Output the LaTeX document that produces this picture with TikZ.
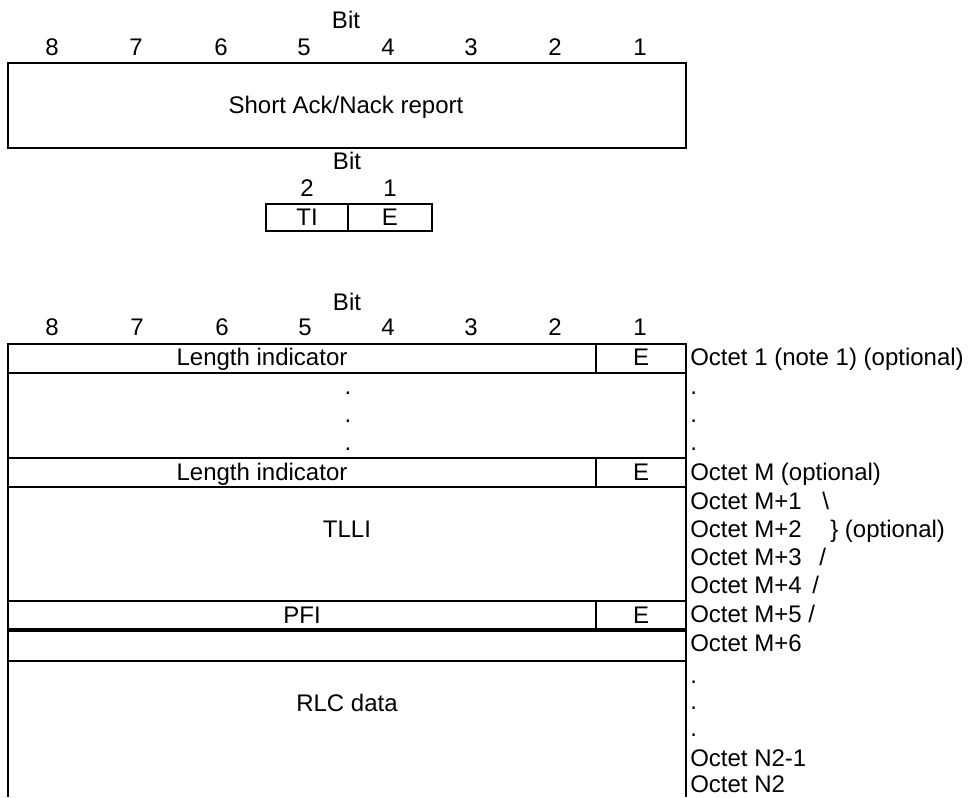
\documentclass[tikz,border=0pt]{standalone}
\usepackage{fontspec}
\setmainfont{Liberation Sans}
\begin{document}
\begin{tikzpicture}[x=0.75pt,y=-0.75pt,
  lbl/.style={inner sep=0pt, anchor=base},
  lblw/.style={inner sep=0pt, anchor=base west},
  rule/.style={line width=1.5pt},
  thickrule/.style={line width=2.3pt},
  font=\fontsize{18}{21.6}\selectfont]
\useasboundingbox (0,0) rectangle (968,797);

% ---------- top: Short Ack/Nack report ----------
\node[lbl] (bitA) at (346,28.5) {Bit};
\foreach \b/\xx in {8/52,7/136,6/221,5/304,4/388,3/471,2/555,1/640}
  \node[lbl] (a\b) at (\xx,55.5) {\b};
\draw[rule] (8,63) rectangle (686,148);
\node[lbl] (sar) at (346,113.5) {Short Ack/Nack report};

% ---------- TI / E ----------
\node[lbl] (bitB) at (347,169.5) {Bit};
\node[lbl] (b2) at (307,196.5) {2};
\node[lbl] (b1) at (390,196.5) {1};
\draw[rule] (266,204) rectangle (432,231);
\draw[rule] (348,204) -- (348,231);
\node[lbl] (ti) at (307,225.5) {TI};
\node[lbl] (te) at (390,225.5) {E};

% ---------- bottom table ----------
\node[lbl] (bitC) at (347,310) {Bit};
\foreach \b/\xx in {8/52,7/137,6/222,5/305,4/388,3/471,2/555,1/640}
  \node[lbl] (c\b) at (\xx,335.5) {\b};

\draw[rule] (8,797) -- (8,344) -- (686,344) -- (686,797);
\foreach \yy in {373,458,487,601,661}
  \draw[rule] (8,\yy) -- (686,\yy);
\draw[thickrule] (8,630) -- (686,630);
\draw[rule] (596,344) -- (596,373);
\draw[rule] (596,458) -- (596,487);
\draw[rule] (596,601) -- (596,630);

\node[lbl] (li1) at (262,365.5) {Length indicator};
\node[lbl] (e1) at (641,365.5) {E};
\node[lbl] (d1) at (348,394.5) {.};
\node[lbl] (d2) at (348,422.5) {.};
\node[lbl] (d3) at (348,450.5) {.};
\node[lbl] (li2) at (262,480.5) {Length indicator};
\node[lbl] (e2) at (641,480.5) {E};
\node[lbl] (tlli) at (347,537.5) {TLLI};
\node[lbl] (pfi) at (302,623) {PFI};
\node[lbl] (e3) at (641,623) {E};
\node[lbl] (rlc) at (347,711.5) {RLC data};

% ---------- right-hand octet labels ----------
\node[lblw] (o1) at (690,365.5) {Octet 1 (note 1) (optional)};
\node[lblw] (od1) at (690,394.5) {.};
\node[lblw] (od2) at (690,422.5) {.};
\node[lblw] (od3) at (690,450.5) {.};
\node[lblw] (om) at (690,480.5) {Octet M (optional)};
\node[lblw] (om1) at (690,509.5) {Octet M+1};
\node[lblw] (s1) at (822,509.5) {\textbackslash};
\node[lblw] (om2) at (690,537.5) {Octet M+2};
\node[lblw] (s2) at (830,537.5) {\} (optional)};
\node[lblw] (om3) at (690,565.5) {Octet M+3};
\node[lblw] (s3) at (819,565.5) {/};
\node[lblw] (om4) at (690,593.5) {Octet M+4};
\node[lblw] (s4) at (812,593.5) {/};
\node[lblw] (om5) at (690,622.5) {Octet M+5 /};
\node[lblw] (om6) at (690,651.5) {Octet M+6};
\node[lblw] (od4) at (690,683.5) {.};
\node[lblw] (od5) at (690,709.5) {.};
\node[lblw] (od6) at (690,736.5) {.};
\node[lblw] (on1) at (690,766.5) {Octet N2-1};
\node[lblw] (on2) at (690,792.5) {Octet N2};
\end{tikzpicture}
\end{document}
